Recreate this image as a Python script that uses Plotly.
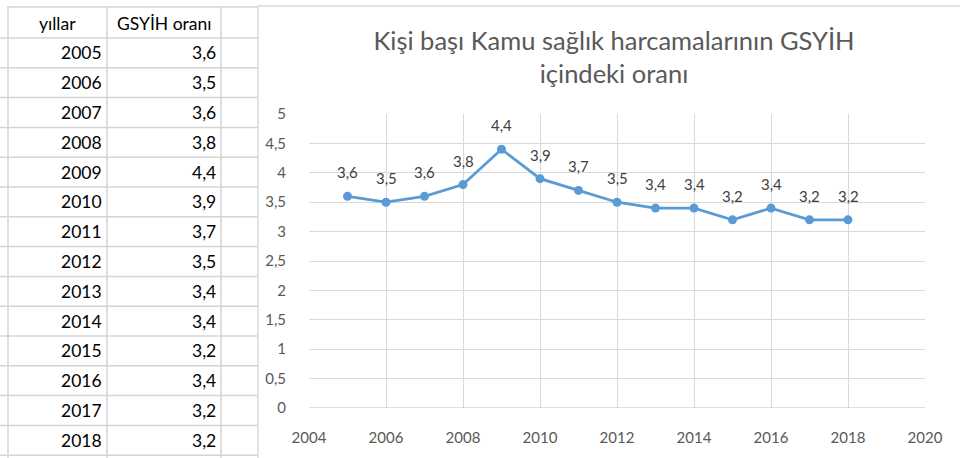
import plotly.graph_objects as go

years = [2005, 2006, 2007, 2008, 2009, 2010, 2011, 2012, 2013, 2014, 2015, 2016, 2017, 2018]
values = [3.6, 3.5, 3.6, 3.8, 4.4, 3.9, 3.7, 3.5, 3.4, 3.4, 3.2, 3.4, 3.2, 3.2]
value_labels = ["3,6", "3,5", "3,6", "3,8", "4,4", "3,9", "3,7", "3,5", "3,4", "3,4", "3,2", "3,4", "3,2", "3,2"]
table_headers = ["yıllar", "GSYİH oranı"]
title_text = "Kişi başı Kamu sağlık harcamalarının GSYİH<br>içindeki oranı"

W, H = 960, 458
L, R, T, B = 309, 925, 114, 408
FONT = "Lato, 'Open Sans', sans-serif"
GRID = "#D9D9D9"
SHEET = "#D4D4D4"


def px(x):
    return (x - L) / (R - L)


def py(y):
    return (B - y) / (B - T)


fig = go.Figure()
fig.add_trace(go.Scatter(
    x=years, y=values, mode="lines+markers",
    line=dict(color="#5B9BD5", width=2.75),
    marker=dict(color="#5B9BD5", size=9),
    hoverinfo="skip", showlegend=False,
))

annotations = []
for yr, v, lab in zip(years, values, value_labels):
    annotations.append(dict(x=yr, y=v, xref="x", yref="y", text=lab, showarrow=False,
                            yshift=24, font=dict(family=FONT, size=15, color="#404040")))

shapes = []
row_h = 29.8
header_top, header_bot = 7, 38
hlines = [header_bot + k * row_h for k in range(0, 15)]
shapes.append(dict(type="line", xref="paper", yref="paper", x0=px(8), x1=px(258),
                   y0=py(header_top), y1=py(header_top), line=dict(color=SHEET, width=1.5)))
for yy in hlines:
    shapes.append(dict(type="line", xref="paper", yref="paper", x0=px(0), x1=px(258),
                       y0=py(yy), y1=py(yy), line=dict(color=SHEET, width=1.5)))
for xx in [8, 107, 221]:
    shapes.append(dict(type="line", xref="paper", yref="paper", x0=px(xx), x1=px(xx),
                       y0=py(6), y1=py(460), line=dict(color=SHEET, width=1.5)))
shapes.append(dict(type="rect", xref="paper", yref="paper", x0=px(258), x1=px(962),
                   y0=py(6), y1=py(462), line=dict(color=GRID, width=1.5)))

annotations.append(dict(x=px(57.5), y=py(23), xref="paper", yref="paper", text=table_headers[0],
                        showarrow=False, xanchor="center", yanchor="middle",
                        font=dict(family=FONT, size=17.5, color="#000000")))
annotations.append(dict(x=px(164), y=py(23), xref="paper", yref="paper", text=table_headers[1],
                        showarrow=False, xanchor="center", yanchor="middle",
                        font=dict(family=FONT, size=17.5, color="#000000")))
for i, (yr, lab) in enumerate(zip(years, value_labels)):
    cy = header_bot + (i + 0.5) * row_h
    annotations.append(dict(x=px(104), y=py(cy), xref="paper", yref="paper", text=str(yr),
                            showarrow=False, xanchor="right", yanchor="middle",
                            font=dict(family=FONT, size=17.5, color="#000000")))
    annotations.append(dict(x=px(218), y=py(cy), xref="paper", yref="paper", text=lab,
                            showarrow=False, xanchor="right", yanchor="middle",
                            font=dict(family=FONT, size=17.5, color="#000000")))

fig.update_layout(
    width=W, height=H,
    margin=dict(l=L, r=W - R, t=T, b=H - B, pad=0),
    paper_bgcolor="white", plot_bgcolor="rgba(0,0,0,0)",
    separators=",.",
    title=dict(text=title_text, x=px(614), xanchor="center", xref="paper",
               y=1 - 50 / H, yanchor="top", yref="container",
               font=dict(family=FONT, size=25.5, color="#595959")),
    xaxis=dict(range=[2004, 2020], dtick=2, tick0=2004, showgrid=True, gridcolor=GRID,
               gridwidth=1, zeroline=False, showline=False, ticks="outside", ticklen=16,
               tickcolor="rgba(0,0,0,0)", tickformat="d",
               tickfont=dict(family=FONT, size=15, color="#595959")),
    yaxis=dict(range=[0, 5], dtick=0.5, tick0=0, showgrid=True, gridcolor=GRID, gridwidth=1,
               zeroline=False, showline=False, ticks="outside", ticklen=19,
               tickcolor="rgba(0,0,0,0)",
               tickfont=dict(family=FONT, size=15, color="#595959")),
    shapes=shapes,
    annotations=annotations,
)
fig.add_shape(type="line", xref="paper", yref="y", x0=0, x1=1, y0=0, y1=0,
              line=dict(color="#BFBFBF", width=1.2), layer="above")

fig.write_html("out.html", config={"displayModeBar": False},
               post_script="document.body.style.margin='0';")
